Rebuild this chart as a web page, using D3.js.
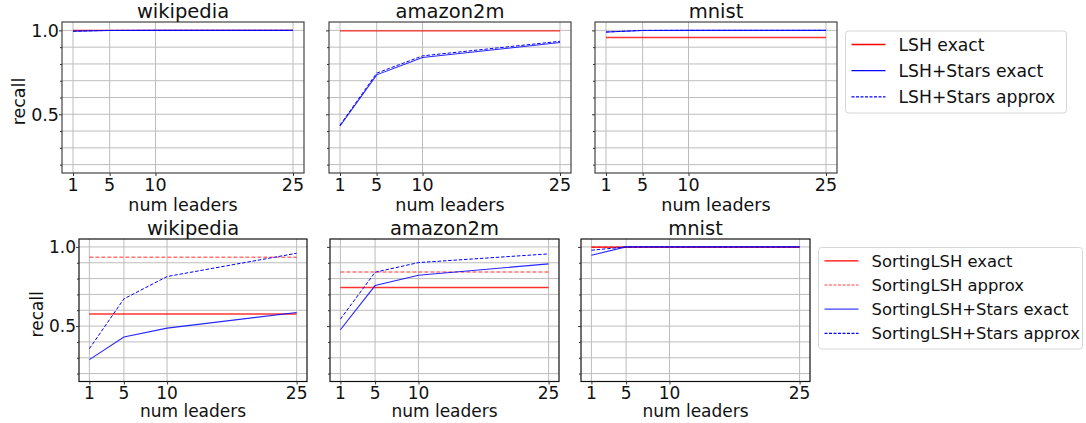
<!DOCTYPE html>
<html>
<head>
<meta charset="utf-8">
<script src="https://cdn.jsdelivr.net/npm/d3@7"></script>
<style>
  body { margin: 0; background: #fff; }
  svg { font-family: "DejaVu Sans", sans-serif; }
</style>
</head>
<body>
<div id="chart"></div>
<script>
'use strict';

// ---- data ----
const leaders = [1, 5, 10, 25];
const datasets = ['wikipedia', 'amazon2m', 'mnist'];

// top row (constant LSH baseline per dataset)
const lshExact = [1.0, 0.997, 0.958];
const lshStarsExact = [[0.995, 0.999, 1.0, 1.0], [0.43, 0.735, 0.838, 0.928], [0.99, 0.999, 1.0, 1.0]];
const lshStarsApprox = [[0.995, 1.0, 1.0, 1.0], [0.435, 0.745, 0.848, 0.935], [0.99, 1.0, 1.0, 1.0]];

// bottom row
const sortExact = [0.576, 0.744, 0.998];
const sortApprox = [0.935, 0.842, 1.0];
const sortStarsExact = [[0.288, 0.431, 0.487, 0.586], [0.477, 0.756, 0.821, 0.893], [0.947, 1.0, 1.0, 1.0]];
const sortStarsApprox = [[0.357, 0.672, 0.813, 0.96], [0.544, 0.84, 0.901, 0.956], [0.979, 1.0, 1.0, 1.0]];

const yMajor = [0.5, 1.0];
const yMinor = [0.2, 0.3, 0.4, 0.6, 0.7, 0.8, 0.9];
const xTicks = [1, 5, 10, 25];
const topLegend = ['LSH exact', 'LSH+Stars exact', 'LSH+Stars approx'];
const bottomLegend = ['SortingLSH exact', 'SortingLSH approx', 'SortingLSH+Stars exact', 'SortingLSH+Stars approx'];

const W = 1086, H = 423;
const svg = d3.select('#chart').append('svg').attr('width', W).attr('height', H);

// line styles
const styles = {
    redSolid:  { color: 'red', opacity: 0.8, dash: null, width: 1.4 },
    redDash:   { color: 'red', opacity: 0.55, dash: '4,2', width: 1.4 },
    blueSolid: { color: 'blue', opacity: 0.85, dash: null, width: 1.1 },
    blueDash:  { color: 'blue', opacity: 1, dash: '3.5,1.8', width: 1.0 }
};

// row layouts
const rows = [
    {
        panels: [[62, 304], [329, 571], [595, 837]], top: 22, bottom: 173,
        titleY: 18, titleSize: 19.5, tickY: 191, labelY: 211, fontSize: 17.5,
        recallX: 25, border: '#444'
    },
    {
        panels: [[79, 307], [330, 559], [581, 810]], top: 239, bottom: 381.5,
        titleY: 234.5, titleSize: 19.5, tickY: 399, labelY: 417, fontSize: 17,
        recallX: 42.5, border: '#111'
    }
];

const drawPanel = function(row, idx, series) {
    const [x0, x1] = row.panels[idx];
    const x = d3.scaleLinear().domain([-0.2, 26.2]).range([x0, x1]);
    const y = d3.scaleLinear().domain([0.15, 1.05]).range([row.bottom, row.top]);
    const g = svg.append('g');

    // grid
    g.selectAll('.hgrid').data(yMajor.concat(yMinor)).enter().append('line')
        .attr('x1', x0).attr('x2', x1)
        .attr('y1', d => y(d)).attr('y2', d => y(d))
        .attr('stroke', '#bdbdbd').attr('stroke-width', 1);
    g.selectAll('.vgrid').data(xTicks).enter().append('line')
        .attr('x1', d => x(d)).attr('x2', d => x(d))
        .attr('y1', row.top).attr('y2', row.bottom)
        .attr('stroke', '#bdbdbd').attr('stroke-width', 1);

    // series
    const line = d3.line().x((d, i) => x(leaders[i])).y(d => y(d));
    series.forEach(s => {
        g.append('path').datum(s.values)
            .attr('d', line).attr('fill', 'none')
            .attr('stroke', s.style.color).attr('stroke-opacity', s.style.opacity)
            .attr('stroke-width', s.style.width)
            .attr('stroke-dasharray', s.style.dash);
    });

    // frame
    g.append('rect').attr('x', x0).attr('y', row.top)
        .attr('width', x1 - x0).attr('height', row.bottom - row.top)
        .attr('fill', 'none').attr('stroke', row.border).attr('stroke-width', 1.2);

    // x axis
    const xAxis = d3.axisBottom(x).tickValues(xTicks).tickSize(3).tickPadding(2);
    const xa = g.append('g').attr('transform', `translate(0,${row.bottom})`).call(xAxis);
    xa.select('.domain').remove();
    xa.selectAll('.tick line').attr('stroke', '#333');
    xa.selectAll('.tick text').remove();
    g.selectAll('.xlab').data(xTicks).enter().append('text')
        .attr('x', d => x(d)).attr('y', row.tickY)
        .attr('text-anchor', 'middle').attr('font-size', row.fontSize).attr('fill', '#111')
        .text(d => d);

    // y axis ticks
    const ya = g.append('g').attr('transform', `translate(${x0},0)`)
        .call(d3.axisLeft(y).tickValues(yMajor).tickSize(3).tickFormat(''));
    ya.select('.domain').remove();
    ya.selectAll('.tick line').attr('stroke', '#333');
    const ym = g.append('g').attr('transform', `translate(${x0},0)`)
        .call(d3.axisLeft(y).tickValues(yMinor).tickSize(2).tickFormat(''));
    ym.select('.domain').remove();
    ym.selectAll('.tick line').attr('stroke', '#333');

    if (idx === 0) {
        g.selectAll('.ylab').data(yMajor).enter().append('text')
            .attr('x', x0 - 3).attr('y', d => y(d)).attr('dy', '0.36em')
            .attr('text-anchor', 'end').attr('font-size', row.fontSize).attr('fill', '#111')
            .text(d => d3.format('.1f')(d));
        g.append('text')
            .attr('transform', `translate(${row.recallX},${(row.top + row.bottom) / 2 + 4}) rotate(-90)`)
            .attr('text-anchor', 'middle').attr('font-size', row.fontSize).attr('fill', '#111')
            .text('recall');
    }

    // title and x label
    g.append('text').attr('x', (x0 + x1) / 2).attr('y', row.titleY)
        .attr('text-anchor', 'middle').attr('font-size', row.titleSize).attr('fill', '#111')
        .text(datasets[idx]);
    g.append('text').attr('x', (x0 + x1) / 2).attr('y', row.labelY)
        .attr('text-anchor', 'middle').attr('font-size', row.fontSize).attr('fill', '#111')
        .text('num leaders');
};

const drawLegend = function(box, labels, legendStyles, rowGap, fontSize) {
    const g = svg.append('g');
    g.append('rect').attr('x', box.x).attr('y', box.y).attr('width', box.w).attr('height', box.h)
        .attr('rx', 3).attr('fill', '#fff').attr('stroke', '#d6d6d6');
    labels.forEach((d, i) => {
        const cy = box.y + box.first + i * rowGap;
        const st = legendStyles[i];
        g.append('line').attr('x1', box.x + 6).attr('x2', box.x + 40)
            .attr('y1', cy).attr('y2', cy)
            .attr('stroke', st.color).attr('stroke-opacity', st.opacity)
            .attr('stroke-width', 1.3).attr('stroke-dasharray', st.dash);
        g.append('text').attr('x', box.x + 53).attr('y', cy).attr('dy', '0.36em')
            .attr('font-size', fontSize).attr('fill', '#111').text(d);
    });
};

// top row
datasets.forEach((d, i) => {
    drawPanel(rows[0], i, [
        { values: leaders.map(() => lshExact[i]), style: styles.redSolid },
        { values: lshStarsExact[i], style: styles.blueSolid },
        { values: lshStarsApprox[i], style: styles.blueDash }
    ]);
});

// bottom row
datasets.forEach((d, i) => {
    drawPanel(rows[1], i, [
        { values: leaders.map(() => sortExact[i]), style: styles.redSolid },
        { values: leaders.map(() => sortApprox[i]), style: styles.redDash },
        { values: sortStarsExact[i], style: styles.blueSolid },
        { values: sortStarsApprox[i], style: styles.blueDash }
    ]);
});

drawLegend({ x: 845.5, y: 31, w: 221, h: 82, first: 13.5 }, topLegend,
    [{ color: 'red', opacity: 1, dash: null }, { color: 'blue', opacity: 1, dash: null }, { color: 'blue', opacity: 1, dash: '3,1.5' }],
    26.2, 17.2);
drawLegend({ x: 818.5, y: 247.5, w: 264, h: 101.5, first: 13.3 }, bottomLegend,
    [{ color: 'red', opacity: 1, dash: null }, { color: 'red', opacity: 0.5, dash: '3,1.5' },
     { color: 'blue', opacity: 0.75, dash: null }, { color: 'blue', opacity: 1, dash: '3,1.5' }],
    24.2, 16.4);
</script>
</body>
</html>
